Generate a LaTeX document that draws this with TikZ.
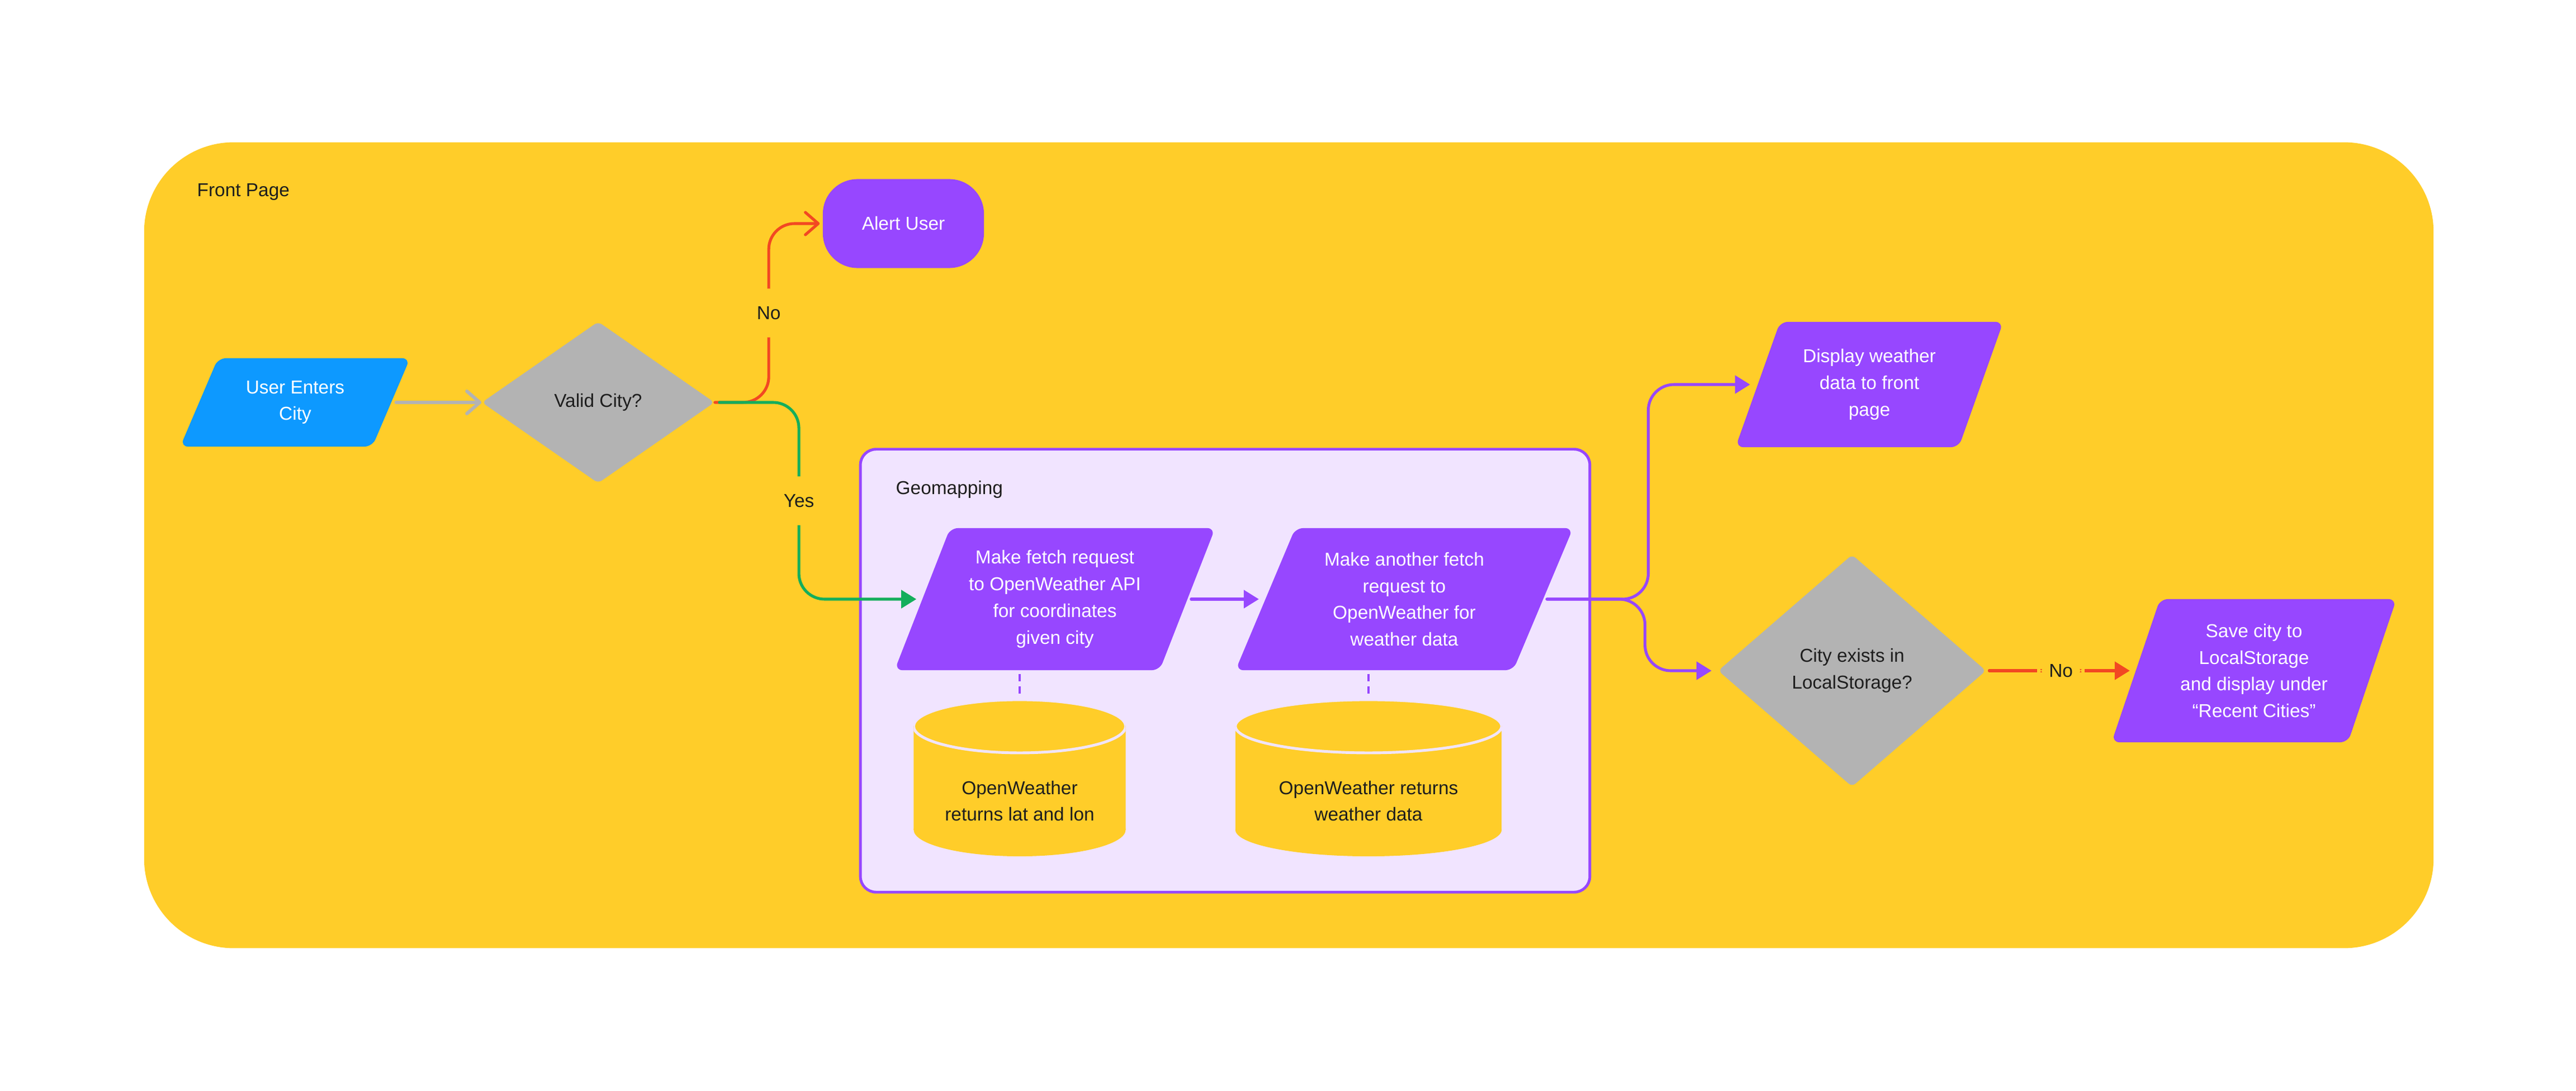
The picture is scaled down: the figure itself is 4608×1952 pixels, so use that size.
\documentclass[tikz,border=0pt]{standalone}
\usepackage{fontspec}
\setmainfont{Liberation Sans}
\usepackage{tikz}
\usetikzlibrary{arrows.meta,shapes.geometric,positioning,calc}
\definecolor{pageyellow}{HTML}{FFCD29}
\definecolor{flowpurple}{HTML}{9747FF}
\definecolor{flowblue}{HTML}{0D99FF}
\definecolor{flowgray}{HTML}{B3B3B3}
\definecolor{flowred}{HTML}{F24822}
\definecolor{flowgreen}{HTML}{14AE5C}
\definecolor{geolilac}{HTML}{F1E4FF}
\definecolor{inkdark}{HTML}{1E1E1E}
\newcommand\flowfont{\fontsize{9.5pt}{13.6pt}\selectfont}

\begin{document}
\begin{tikzpicture}[x=0.01cm,y=-0.01cm,font=\flowfont,
  link/.style={line width=1.45pt,line cap=round,rounded corners=0.46cm},
  tri/.style={-{Triangle[length=0.27cm,width=0.32cm]}},
  barb/.style={-{Straight Barb[length=0.23cm,width=0.4cm,round]}},
  io/.style={trapezium,trapezium left angle=65,trapezium right angle=115,trapezium stretches=true,
    rounded corners=0.14cm,inner sep=0pt,fill=#1,text=white,align=center},
  io/.default=flowpurple,
  decision/.style={diamond,rounded corners=0.08cm,inner sep=0pt,fill=flowgray,text=inkdark,align=center},
  terminal/.style={rectangle,rounded corners=0.62cm,inner sep=0pt,fill=flowpurple,text=white},
  db/.style={minimum width=#1,minimum height=2.8cm,inner sep=0pt,fill=geolilac,
    path picture={
      \fill[pageyellow] ([yshift=-0.475cm]path picture bounding box.north west) rectangle ([yshift=0.475cm]path picture bounding box.south east);
      \fill[pageyellow] ([yshift=0.475cm]path picture bounding box.south) ellipse[x radius=#1/2,y radius=0.475cm];
      \draw[geolilac,fill=pageyellow,line width=1.4pt] ([yshift=-0.475cm]path picture bounding box.north) ellipse[x radius=#1/2,y radius=0.475cm];
    }},
  dbtext/.style={yshift=-0.41cm,align=center,text=inkdark},
  dbline/.style={flowpurple,line width=1.2pt,dash pattern=on 0.13cm off 0.09cm,shorten <=0.06cm,shorten >=0.1cm},
  gap/.style={fill=pageyellow,text=inkdark,inner xsep=0.21cm,inner ysep=0.32cm},
  caption/.style={anchor=base west,inner sep=0pt,text=inkdark}]
\fill[white] (0,0) rectangle (4608,1952);
\useasboundingbox (0,0) rectangle (4608,1952);
\node[rectangle,rounded corners=1.6cm,fill=pageyellow,inner sep=0pt,minimum width=40.93cm,minimum height=14.41cm] (page) at (2305.5,975.5) {};
\node[caption] (pagelbl) at (352,352) {Front Page};
\node[rectangle,rounded corners=0.28cm,draw=flowpurple,line width=1.4pt,fill=geolilac,inner sep=0pt,minimum width=13.04cm,minimum height=7.92cm] (geo) at (2191.5,1200) {};
\node[caption] (geolbl) at (1602,884) {Geomapping};

\node[io=flowblue,trapezium left angle=61,trapezium right angle=119,minimum width=4.14cm,minimum height=1.58cm] (user) at (528,720) {User Enters\\City};
\node[decision,minimum width=4.16cm,minimum height=2.89cm] (valid) at (1070,720) {Valid City?};
\node[terminal,minimum width=2.88cm,minimum height=1.59cm] (alert) at (1616,400) {Alert User};
\node[io,minimum width=5.74cm,minimum height=2.54cm] (coords) at (1887,1072) {Make fetch request\\to OpenWeather API\\for coordinates\\given city};
\node[io,minimum width=6.04cm,minimum height=2.54cm] (weather) at (2512,1072) {Make another fetch\\request to\\OpenWeather for\\weather data};
\node[db=3.79cm,label={[dbtext]center:{OpenWeather\\returns lat and lon}}] (latlon) at (1824,1392) {};
\node[db=4.76cm,label={[dbtext]center:{OpenWeather returns\\weather data}}] (wdata) at (2448,1392) {};
\node[io,minimum width=4.79cm,minimum height=2.24cm] (display) at (3344,688) {Display weather\\data to front\\page};
\node[decision,minimum width=4.79cm,minimum height=4.15cm] (exists) at (3313,1200) {City exists in\\LocalStorage?};
\node[io,trapezium left angle=68,trapezium right angle=112,minimum width=5.10cm,minimum height=2.56cm] (save) at (4032,1200) {Save city to\\LocalStorage\\and display under\\“Recent Cities”};

\draw[link,flowgray,line width=1.7pt,barb,shorten <=0.08cm] (user.right side) -- (valid.west);
\draw[link,flowred,barb,shorten >=0.05cm] (valid.east) -| node[gap,pos=0.75]{No} ([xshift=-9.6mm]alert.west) -- (alert.west);
\draw[link,flowgreen,tri,shorten <=0.08cm,shorten >=0.1cm] (valid.east) -| node[gap,pos=0.75]{Yes} ([xshift=-22mm]coords.left side) -- (coords.left side);
\draw[link,flowpurple,tri,shorten <=0.06cm,shorten >=0.11cm] (coords.right side) -- (weather.left side);
\draw[link,flowpurple,tri,shorten <=0.06cm,shorten >=0.13cm] (weather.right side) -| ([xshift=-19.5mm]display.left side) -- (display.left side);
\draw[link,flowpurple,tri,shorten <=0.06cm,shorten >=0.11cm] (weather.right side) -| ([xshift=-13mm]exists.west) -- (exists.west);
\draw[link,flowred,tri,shorten <=0.05cm,shorten >=0.1cm] (exists.east) -- node[gap,inner ysep=0.1cm]{No} (save.left side);
\draw[dbline] (coords.south -| latlon.north) -- (latlon.north);
\draw[dbline] (weather.south -| wdata.north) -- (wdata.north);
\end{tikzpicture}
\end{document}
